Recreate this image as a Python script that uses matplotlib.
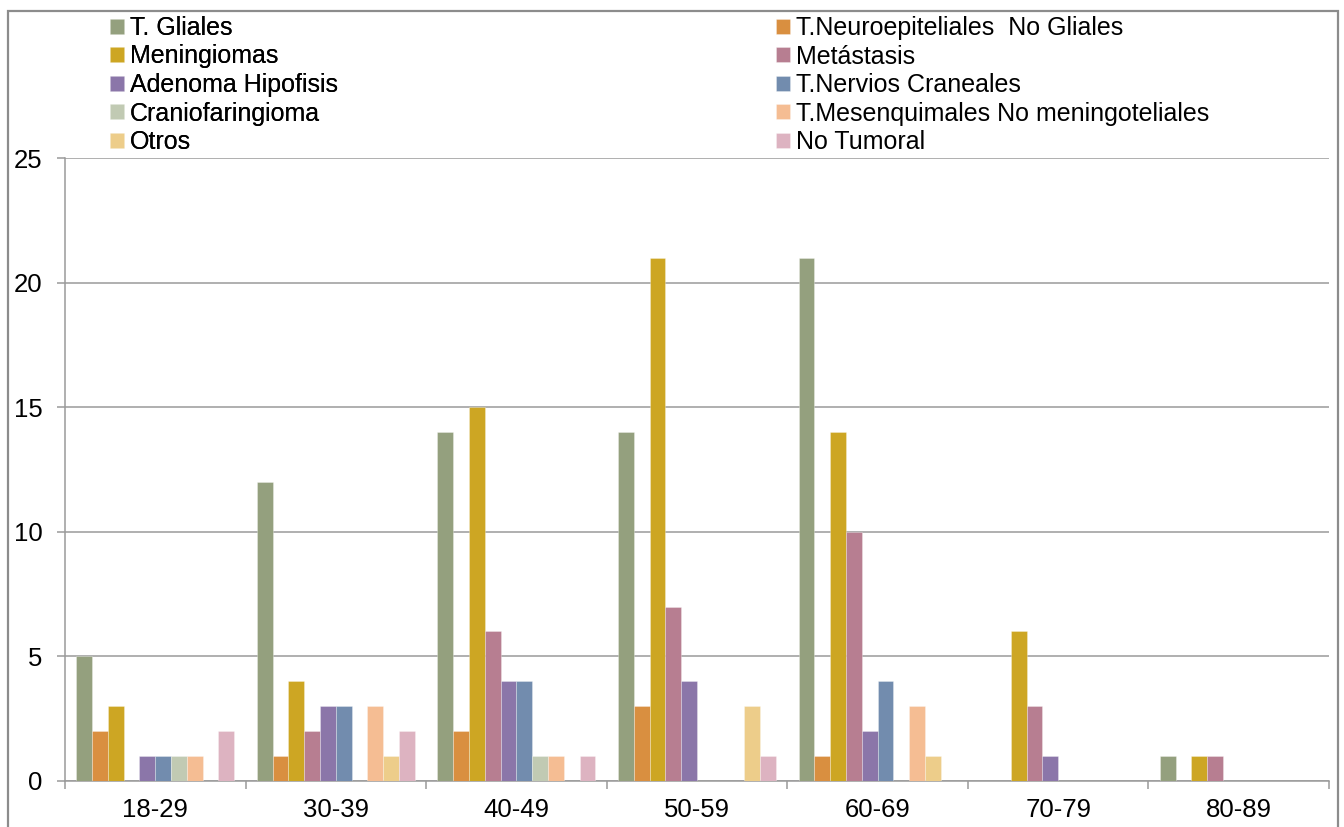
import matplotlib as mpl
mpl.use('Agg')
import matplotlib.pyplot as plt
import matplotlib.patches as mpatches
import numpy as np

mpl.rcParams['font.family'] = ['Liberation Sans', 'DejaVu Sans']

grupos = ["18-29", "30-39", "40-49", "50-59", "60-69", "70-79", "80-89"]

series = ["T. Gliales", "T.Neuroepiteliales  No Gliales", "Meningiomas", "Metástasis",
          "Adenoma Hipofisis", "T.Nervios Craneales", "Craniofaringioma",
          "T.Mesenquimales No meningoteliales", "Otros", "No Tumoral"]

gliales        = [5, 12, 14, 14, 21, 0, 1]
neuroepit      = [2, 1, 2, 3, 1, 0, 0]
meningiomas    = [3, 4, 15, 21, 14, 6, 1]
metastasis     = [0, 2, 6, 7, 10, 3, 1]
adenoma        = [1, 3, 4, 4, 2, 1, 0]
nervios        = [1, 3, 4, 0, 4, 0, 0]
craniofar      = [1, 0, 1, 0, 0, 0, 0]
mesenquimales  = [1, 3, 1, 0, 3, 0, 0]
otros          = [0, 1, 0, 3, 1, 0, 0]
no_tumoral     = [2, 2, 1, 1, 0, 0, 0]

valores = [gliales, neuroepit, meningiomas, metastasis, adenoma,
           nervios, craniofar, mesenquimales, otros, no_tumoral]

colores = ["#94A07E", "#D98F40", "#CDA623", "#B77E91", "#8B76A9",
           "#728CAE", "#C1CAB3", "#F5BD93", "#EDCD8A", "#DDB3C1"]

W, H = 1344, 827
fig = plt.figure(figsize=(W / 100, H / 100), dpi=100)
ax = fig.add_axes([65 / W, 1 - 781 / H, (1329 - 65) / W, (781 - 158) / H])

x = np.arange(len(grupos))
ancho = 0.0875
n = len(series)
barras = []
for i in range(n):
    b = ax.bar(x + (i - (n - 1) / 2) * ancho, valores[i], ancho, color=colores[i],
               edgecolor=(1, 1, 1, 0.5), linewidth=0.4, label=series[i], zorder=3)
    barras.append(b)

gris = "#9a9a9a"
ax.set_xlim(-0.5, len(grupos) - 0.5)
ax.set_ylim(0, 25)
ax.set_yticks(np.arange(0, 26, 5))
ax.yaxis.grid(True, color=gris, linewidth=1.1, zorder=0)
ax.set_axisbelow(True)

ax.set_xticks(np.arange(len(grupos) + 1) - 0.5)
ax.set_xticklabels([])
ax.set_xticks(x, minor=True)
ax.set_xticklabels(grupos, minor=True)
ax.tick_params(axis='x', which='major', direction='out', length=6, width=1.1, color=gris)
ax.tick_params(axis='x', which='minor', length=0, pad=12, labelsize=18.5)
ax.tick_params(axis='y', direction='out', length=6, width=1.1, color=gris, pad=10, labelsize=18.5)

for s in ['top', 'right']:
    ax.spines[s].set_visible(False)
for s in ['left', 'bottom']:
    ax.spines[s].set_color(gris)
    ax.spines[s].set_linewidth(1.1)

# two legend columns, row-major order
leg_kw = dict(loc='upper left', frameon=False, fontsize=18, handlelength=0.55,
              handleheight=0.55, handletextpad=0.25, labelspacing=0.18, borderpad=0,
              borderaxespad=0)
izq = [0, 2, 4, 6, 8]
der = [1, 3, 5, 7, 9]
leg1 = fig.legend([barras[i] for i in izq], [series[i] for i in izq],
                  bbox_to_anchor=(110 / W, 1 - 16 / H), **leg_kw)
fig.add_artist(leg1)
fig.legend([barras[i] for i in der], [series[i] for i in der],
           bbox_to_anchor=(776 / W, 1 - 16 / H), **leg_kw)

# outer chart border
fig.patches.append(mpatches.Rectangle((8 / W, -0.05), (1338 - 8) / W, 1.05 - 11 / H,
                                      transform=fig.transFigure, fill=False,
                                      edgecolor="#8c8c8c", linewidth=1.6))

plt.savefig("out.png", dpi=100)
